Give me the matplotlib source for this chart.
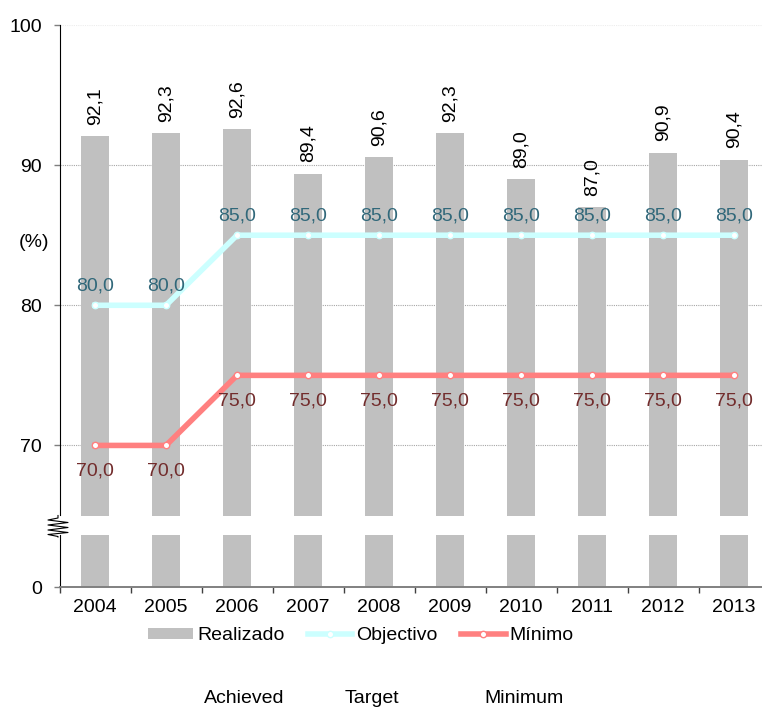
import matplotlib
matplotlib.use("Agg")
import matplotlib.pyplot as plt
from matplotlib.lines import Line2D
from matplotlib.patches import Patch

plt.rcParams['font.family'] = ['Liberation Sans', 'DejaVu Sans']

years = ['2004', '2005', '2006', '2007', '2008', '2009', '2010', '2011', '2012', '2013']
realizado = [92.1, 92.3, 92.6, 89.4, 90.6, 92.3, 89.0, 87.0, 90.9, 90.4]
objectivo = [80.0, 80.0, 85.0, 85.0, 85.0, 85.0, 85.0, 85.0, 85.0, 85.0]
minimo = [70.0, 70.0, 75.0, 75.0, 75.0, 75.0, 75.0, 75.0, 75.0, 75.0]
top_ticks = [70, 80, 90, 100]
legend_names = ['Realizado', 'Objectivo', 'Mínimo']
english_names = ['Achieved', 'Target', 'Minimum']

W, H = 762, 707
FS = 14
BAR_C = '#C0C0C0'
CYAN = '#CCFFFF'
RED = '#FF8080'
CYAN_TXT = '#31687A'
RED_TXT = '#722C2C'

fig = plt.figure(figsize=(W / 100, H / 100), dpi=100)

def px_box(x0, y_top, x1, y_bot):
    return [x0 / W, 1 - y_bot / H, (x1 - x0) / W, (y_bot - y_top) / H]

ax_top = fig.add_axes(px_box(59.5, 25, 769.5, 515.5))
ax_bot = fig.add_axes(px_box(59.5, 535, 769.5, 587))

x = list(range(len(years)))
fmt = lambda v: f"{v:.1f}".replace('.', ',')

for ax in (ax_top, ax_bot):
    ax.bar(x, realizado, width=0.39, color=BAR_C, zorder=2)
    ax.set_xlim(-0.5, len(years) - 0.5)
    ax.spines['top'].set_visible(False)
    ax.spines['right'].set_visible(False)
    ax.spines['left'].set_color('black')
    ax.spines['left'].set_linewidth(0.8)
    ax.tick_params(axis='y', direction='out', length=4.5, width=1.0,
                   color='#7F7F7F', pad=8, labelsize=FS)
    ax.set_facecolor('none')

# upper part of the broken axis
ax_top.set_ylim(65, 100)
ax_top.set_yticks(top_ticks)
ax_top.set_xticks([])
ax_top.spines['bottom'].set_visible(False)
ax_top.yaxis.grid(True, linestyle=(0, (1, 1)), color='#A6A6A6', linewidth=0.8, zorder=1)
ax_top.set_axisbelow(True)
ax_top.get_ygridlines()[-1].set_color('#EDEDED')

line_kw = dict(linewidth=4.0, marker='o', markersize=4.6, markerfacecolor='white',
               markeredgewidth=1.0, zorder=4)
ax_top.plot(x, objectivo, color=CYAN, markeredgecolor=CYAN, **line_kw)
ax_top.plot(x, minimo, color=RED, markeredgecolor=RED, **line_kw)

for xi, v in zip(x, realizado):
    ax_top.annotate(fmt(v), (xi, v), xytext=(0, 8), textcoords='offset points',
                    rotation=90, ha='center', va='bottom', fontsize=FS,
                    color='black', zorder=5)
for xi, v in zip(x, objectivo):
    ax_top.annotate(fmt(v), (xi, v), xytext=(0, 10.5), textcoords='offset points',
                    ha='center', va='baseline', fontsize=FS, color=CYAN_TXT, zorder=5)
for xi, v in zip(x, minimo):
    ax_top.annotate(fmt(v), (xi, v), xytext=(0, -21.5), textcoords='offset points',
                    ha='center', va='baseline', fontsize=FS, color=RED_TXT, zorder=5)

# lower part of the broken axis
ax_bot.set_ylim(0, 52 / 14.03)
ax_bot.set_yticks([0])
ax_bot.spines['bottom'].set_color('#808080')
ax_bot.spines['bottom'].set_linewidth(1.4)
ax_bot.set_xticks([i + 0.5 for i in range(-1, len(years))], minor=False)
ax_bot.set_xticklabels([''] * (len(years) + 1))
ax_bot.set_xticks(x, minor=True)
ax_bot.set_xticklabels(years, minor=True)
ax_bot.tick_params(axis='x', which='major', direction='out', length=4, width=1.0,
                   color='#404040')
ax_bot.tick_params(axis='x', which='minor', length=0, pad=8.5, labelsize=FS)

# zigzag marking the axis break
zx = [58, 58, 48, 68, 48, 68, 48, 68, 48, 58, 58]
zy = [515.5, 518, 520, 522.5, 525, 527.5, 530, 532.5, 534.5, 536.5, 537]
fig.add_artist(Line2D([v / W for v in zx], [1 - v / H for v in zy],
                      transform=fig.transFigure, color='black', linewidth=0.8))

fig.text(34 / W, 1 - 242 / H, '(%)', ha='center', va='center', fontsize=FS)

handles = [
    Patch(facecolor=BAR_C, edgecolor='none'),
    Line2D([], [], color=CYAN, linewidth=4.0, marker='o', markersize=4.6,
           markerfacecolor='white', markeredgecolor=CYAN),
    Line2D([], [], color=RED, linewidth=4.0, marker='o', markersize=4.6,
           markerfacecolor='white', markeredgecolor=RED),
]
fig.legend(handles, legend_names, loc='center', bbox_to_anchor=(361 / W, 1 - 636 / H),
           ncol=3, frameon=False, fontsize=FS, handlelength=2.3, handleheight=0.5,
           handletextpad=0.2, columnspacing=1.2, borderpad=0, borderaxespad=0)

for name, cx in zip(english_names, [244, 372, 524]):
    fig.text(cx / W, 1 - 703 / H, name, ha='center', va='baseline', fontsize=FS)

fig.savefig('out.png', dpi=100)
